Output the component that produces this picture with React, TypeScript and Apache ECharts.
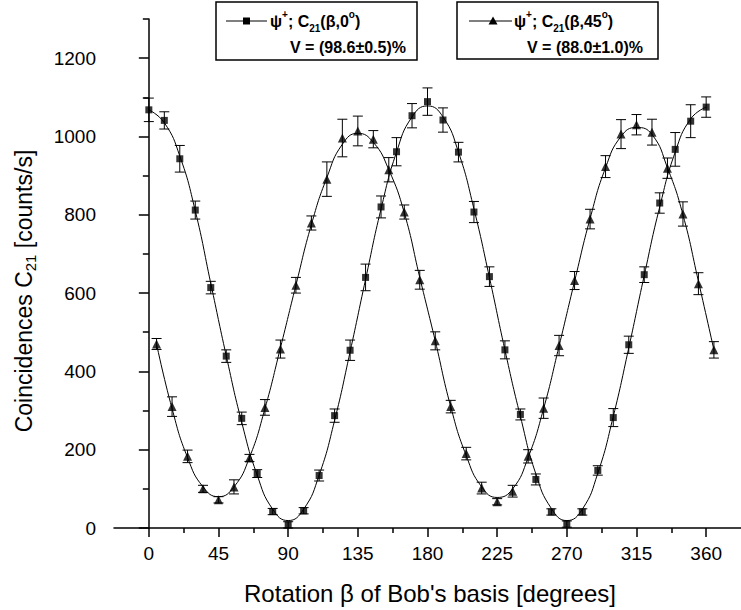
import React, { useEffect, useRef } from "react";
import * as echarts from "echarts";

const sqBeta = [0, 10, 20, 30, 40, 50, 60, 70, 80, 90, 100, 110, 120, 130, 140, 150, 160, 170, 180, 190, 200, 210, 220, 230, 240, 250, 260, 270, 280, 290, 300, 310, 320, 330, 340, 350, 360];
const sqVal = [1068, 1041, 943, 812, 614, 439, 280, 139, 42, 8, 44, 134, 287, 454, 640, 820, 961, 1053, 1089, 1042, 960, 807, 642, 455, 290, 124, 41, 10, 41, 147, 282, 468, 647, 830, 967, 1039, 1075];
const sqErr = [30, 22, 34, 23, 16, 16, 16, 10, 8, 8, 8, 14, 17, 26, 34, 28, 36, 31, 35, 31, 25, 27, 25, 23, 14, 14, 8, 8, 8, 12, 23, 22, 20, 26, 43, 42, 26];
const sqFit = [1068, 1035, 950, 810, 625, 440, 270, 135, 48, 19, 48, 135, 275, 450, 635, 815, 960, 1050, 1078, 1050, 960, 815, 640, 455, 285, 138, 50, 19, 48, 140, 285, 460, 645, 820, 960, 1045, 1075];

const triBeta = [5, 15, 25, 35, 45, 55, 65, 75, 85, 95, 105, 115, 125, 135, 145, 155, 165, 175, 185, 195, 205, 215, 225, 235, 245, 255, 265, 275, 285, 295, 305, 315, 325, 335, 345, 355, 365];
const triVal = [470, 310, 183, 100, 72, 105, 179, 308, 457, 620, 779, 891, 996, 1014, 993, 915, 807, 634, 478, 310, 190, 102, 67, 94, 183, 306, 466, 632, 789, 923, 1006, 1030, 1011, 919, 802, 624, 455];
const triErr = [14, 25, 16, 9, 8, 18, 9, 20, 23, 20, 18, 44, 48, 38, 22, 31, 18, 24, 23, 16, 16, 15, 8, 15, 17, 26, 26, 23, 25, 28, 37, 26, 33, 26, 31, 28, 21];
const triFit = [470, 305, 180, 105, 80, 105, 180, 305, 460, 620, 775, 895, 980, 1008, 985, 915, 805, 640, 478, 310, 185, 105, 78, 100, 180, 305, 465, 630, 790, 920, 1000, 1023, 1005, 920, 800, 630, 455];

const xMajor = [0, 45, 90, 135, 180, 225, 270, 315, 360];
const xMinor = [22.5, 67.5, 112.5, 157.5, 202.5, 247.5, 292.5, 337.5];
const yMajor = [0, 200, 400, 600, 800, 1000, 1200];
const yMinor = [100, 300, 500, 700, 900, 1100, 1300];

const legend1 = { sym: "ψ", sup: "+", mid: "; C", sub: "21", arg: "(β,0", deg: "o", end: ")", vis: "V = (98.6±0.5)%" };
const legend2 = { sym: "ψ", sup: "+", mid: "; C", sub: "21", arg: "(β,45", deg: "o", end: ")", vis: "V = (88.0±1.0)%" };
const xTitle = "Rotation β of Bob's basis [degrees]";
const yTitleParts = ["Coincidences C", "21", " [counts/s]"];

const FONT = "'Liberation Sans', Arial, Helvetica, sans-serif";

export default function App() {
  const ref = useRef<HTMLDivElement>(null);
  useEffect(() => {
    document.body.style.margin = "0";
    if (!ref.current) return;
    const chart = echarts.init(ref.current, null, { renderer: "svg" });

    const sqPts = sqBeta.map((b, i) => [b, sqVal[i]]);
    const triPts = triBeta.map((b, i) => [b, triVal[i]]);
    const sqFitPts = sqBeta.map((b, i) => [b, sqFit[i]]);
    const triFitPts = triBeta.map((b, i) => [b, triFit[i]]);
    const sqBars = sqBeta.map((b, i) => [b, sqVal[i] - sqErr[i], sqVal[i] + sqErr[i]]);
    const triBars = triBeta.map((b, i) => [b, triVal[i] - triErr[i], triVal[i] + triErr[i]]);

    const errRender = (params: any, api: any) => {
      const x = api.value(0);
      const lo = api.value(1);
      const hi = api.value(2);
      const p1 = api.coord([x, hi]);
      const p2 = api.coord([x, lo]);
      const w = 5;
      const st = { stroke: "#000", lineWidth: 1 };
      return {
        type: "group",
        children: [
          { type: "line", shape: { x1: p1[0], y1: p1[1], x2: p2[0], y2: p2[1] }, style: st },
          { type: "line", shape: { x1: p1[0] - w, y1: p1[1], x2: p1[0] + w, y2: p1[1] }, style: st },
          { type: "line", shape: { x1: p2[0] - w, y1: p2[1], x2: p2[0] + w, y2: p2[1] }, style: st },
        ],
      };
    };

    const richLegend = {
      a: { fontSize: 16, fontWeight: "bold", fontFamily: FONT, color: "#000", lineHeight: 24 },
      sup: { fontSize: 10, fontWeight: "bold", fontFamily: FONT, color: "#000", lineHeight: 12, verticalAlign: "top" },
      sub: { fontSize: 10, fontWeight: "bold", fontFamily: FONT, color: "#000", lineHeight: 12, verticalAlign: "bottom" },
    };
    const legText = (l: any) =>
      `{a|${l.sym}}{sup|${l.sup}}{a|${l.mid}}{sub|${l.sub}}{a|${l.arg}}{sup|${l.deg}}{a|${l.end}}`;

    const plain = (v: number) => String(v);

    const option: any = {
      animation: false,
      backgroundColor: "#fff",
      grid: { left: 114, right: -12, top: 19, bottom: 82, containLabel: false },
      xAxis: [
        {
          type: "value",
          min: -22.5,
          max: 382.5,
          interval: 22.5,
          position: "bottom",
          axisLine: { show: true, lineStyle: { color: "#000", width: 1.5 } },
          axisTick: { show: true, customValues: xMajor, length: 9, lineStyle: { color: "#000", width: 1.5 } },
          axisLabel: { customValues: xMajor, formatter: plain, margin: 16, color: "#000", fontSize: 19, fontFamily: FONT },
          splitLine: { show: false },
        },
        {
          type: "value",
          min: -22.5,
          max: 382.5,
          interval: 22.5,
          position: "bottom",
          axisLine: { show: false },
          axisTick: { show: true, customValues: xMinor, length: 5, lineStyle: { color: "#000", width: 1.5 } },
          axisLabel: { show: false },
          splitLine: { show: false },
        },
      ],
      yAxis: [
        {
          type: "value",
          min: 0,
          max: 1300,
          interval: 100,
          position: "left",
          axisLine: { show: true, lineStyle: { color: "#000", width: 1.5 } },
          axisTick: { show: true, customValues: yMajor, length: 10, lineStyle: { color: "#000", width: 1.5 } },
          axisLabel: { customValues: yMajor, formatter: plain, margin: 18, color: "#000", fontSize: 19, fontFamily: FONT },
          splitLine: { show: false },
        },
        {
          type: "value",
          min: 0,
          max: 1300,
          interval: 100,
          position: "left",
          axisLine: { show: false },
          axisTick: { show: true, customValues: yMinor, length: 6, lineStyle: { color: "#000", width: 1.5 } },
          axisLabel: { show: false },
          splitLine: { show: false },
        },
      ],
      series: [
        {
          type: "line",
          name: "fit0",
          data: sqFitPts,
          smooth: 0.5,
          showSymbol: false,
          symbol: "none",
          lineStyle: { color: "#000", width: 1 },
          z: 1,
        },
        {
          type: "line",
          name: "fit45",
          data: triFitPts,
          smooth: 0.5,
          showSymbol: false,
          symbol: "none",
          lineStyle: { color: "#000", width: 1 },
          z: 1,
        },
        { type: "custom", name: "err0", data: sqBars, renderItem: errRender, encode: { x: 0, y: [1, 2] }, z: 2 },
        { type: "custom", name: "err45", data: triBars, renderItem: errRender, encode: { x: 0, y: [1, 2] }, z: 2 },
        {
          type: "scatter",
          name: "C21(β,0°)",
          data: sqPts,
          symbol: "rect",
          symbolSize: 7,
          itemStyle: { color: "#000" },
          z: 3,
        },
        {
          type: "scatter",
          name: "C21(β,45°)",
          data: triPts,
          symbol: "triangle",
          symbolSize: 9,
          itemStyle: { color: "#000" },
          z: 3,
        },
      ],
      graphic: [
        // legend box 1
        { type: "rect", shape: { x: 216, y: 2, width: 201, height: 58 }, style: { fill: "#fff", stroke: "#000", lineWidth: 1.5 }, z: 10 },
        { type: "line", shape: { x1: 226, y1: 21, x2: 267, y2: 21 }, style: { stroke: "#000", lineWidth: 1 }, z: 11 },
        { type: "rect", shape: { x: 243, y: 17.5, width: 7, height: 7 }, style: { fill: "#000" }, z: 11 },
        { type: "text", x: 270, y: 21, style: { text: legText(legend1), rich: richLegend, verticalAlign: "middle", align: "left" }, z: 11 },
        { type: "text", x: 290, y: 47, style: { text: legend1.vis, font: `bold 16px ${FONT}`, fill: "#000", verticalAlign: "middle", align: "left" }, z: 11 },
        // legend box 2
        { type: "rect", shape: { x: 457, y: 2, width: 201, height: 57 }, style: { fill: "#fff", stroke: "#000", lineWidth: 1.5 }, z: 10 },
        { type: "line", shape: { x1: 469, y1: 21, x2: 512, y2: 21 }, style: { stroke: "#000", lineWidth: 1 }, z: 11 },
        { type: "polygon", shape: { points: [[493, 16.5], [497.5, 24.5], [488.5, 24.5]] }, style: { fill: "#000" }, z: 11 },
        { type: "text", x: 514, y: 21, style: { text: legText(legend2), rich: richLegend, verticalAlign: "middle", align: "left" }, z: 11 },
        { type: "text", x: 527, y: 47, style: { text: legend2.vis, font: `bold 16px ${FONT}`, fill: "#000", verticalAlign: "middle", align: "left" }, z: 11 },
        // axis titles
        {
          type: "text",
          x: 430,
          y: 593,
          style: { text: xTitle, font: `24px ${FONT}`, fill: "#000", align: "center", verticalAlign: "middle" },
        },
        {
          type: "text",
          x: 24,
          y: 291,
          rotation: Math.PI / 2,
          style: {
            text: `{a|${yTitleParts[0]}}{s|${yTitleParts[1]}}{a|${yTitleParts[2]}}`,
            align: "center",
            verticalAlign: "middle",
            rich: {
              a: { fontSize: 23, fontFamily: FONT, color: "#000", lineHeight: 28 },
              s: { fontSize: 15, fontFamily: FONT, color: "#000", lineHeight: 14, verticalAlign: "bottom" },
            },
          },
        },
      ],
    };
    chart.setOption(option);
    return () => chart.dispose();
  }, []);
  return <div ref={ref} style={{ width: 741, height: 610 }} />;
}
